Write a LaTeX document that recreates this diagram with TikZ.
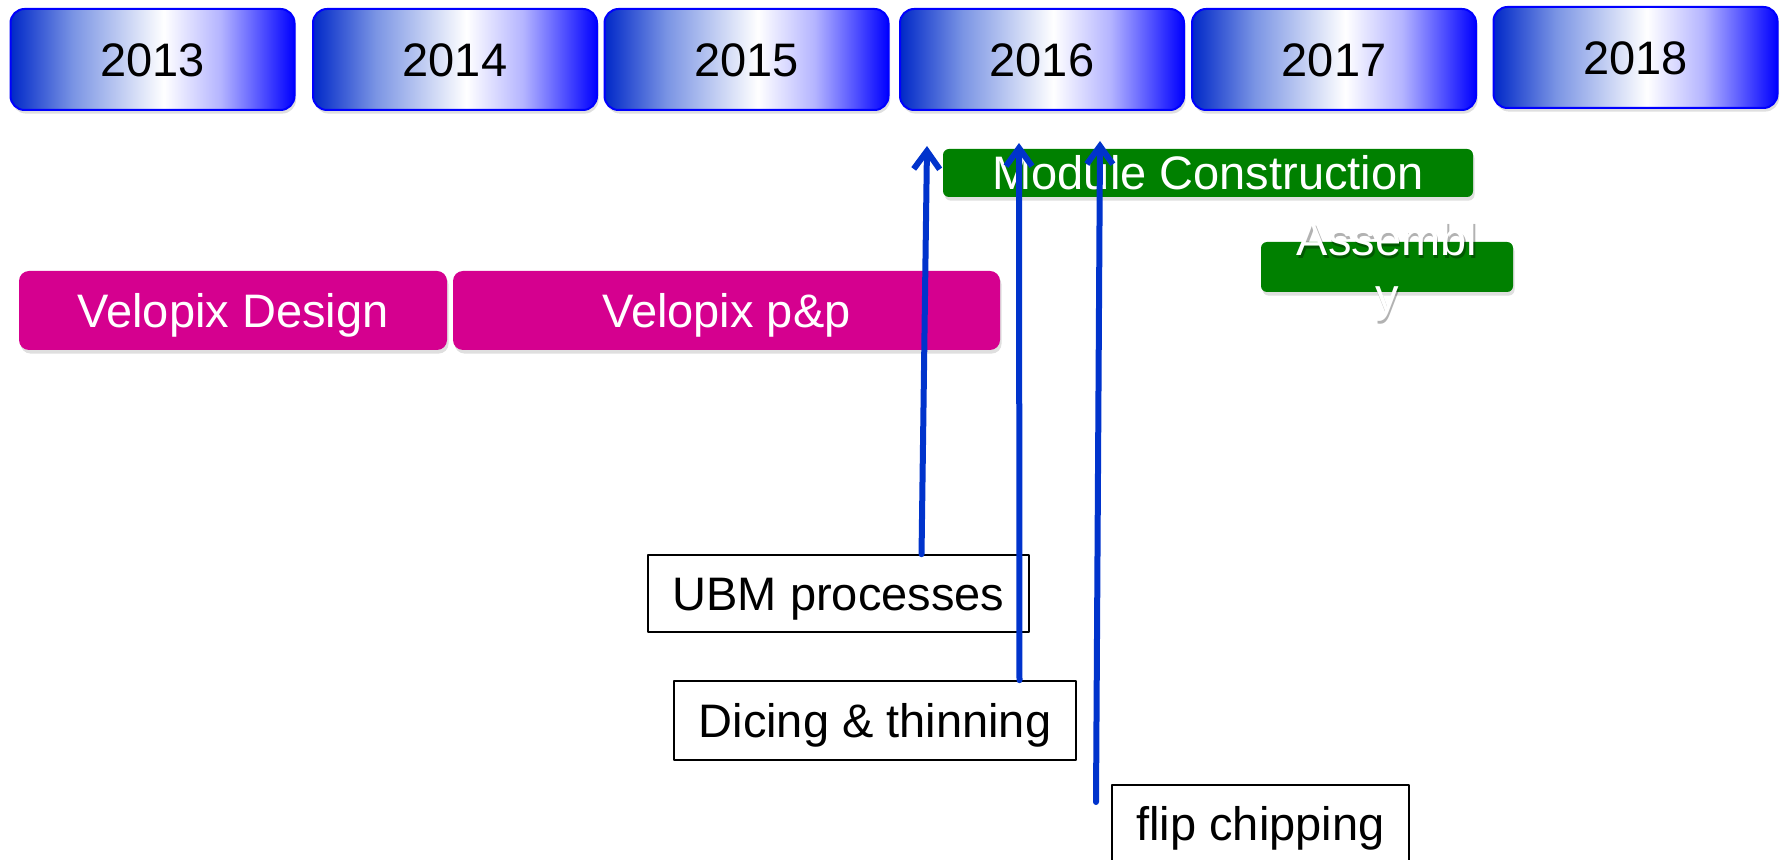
\documentclass[tikz,border=0pt]{standalone}
\usepackage{fontspec}
\setmainfont{Liberation Sans}
\usepackage{xcolor}
\usepackage{tikz}
\usetikzlibrary{arrows.meta, shadows, calc}
\definecolor{year_dark}{HTML}{0028C8}
\definecolor{year_mid}{HTML}{7A94E4}
\definecolor{year_lav}{HTML}{B4B4FF}
\definecolor{year_blue}{HTML}{0000FF}
\definecolor{chip_magenta}{HTML}{D5008F}
\definecolor{module_green}{HTML}{008000}
\definecolor{arrow_blue}{HTML}{0033CC}
\pgfdeclarehorizontalshading{yearshade}{100bp}{color(0bp)=(year_dark); color(25bp)=(year_dark); color(36bp)=(year_mid); color(52bp)=(white); color(62bp)=(year_lav); color(75bp)=(year_blue); color(100bp)=(year_blue)}

\begin{document}
\begin{tikzpicture}[
                x=0.5pt,
                y=-0.5pt,
                line cap=round,
                line join=round,
                capfont/.style={font=\fontsize{23.5}{28}\selectfont, text height=16.8pt, text depth=0pt},
                yearbox/.style={capfont, draw=year_blue, line width=1pt, rounded corners=7pt, shading=yearshade,
                    minimum width=142pt, minimum height=50.5pt, inner sep=0pt,
                    drop shadow={shadow xshift=0.8pt, shadow yshift=-1.8pt, opacity=0.25}},
                chipbox/.style={capfont, fill=chip_magenta, rounded corners=5pt, text=white, inner sep=0pt,
                    minimum height=39.5pt,
                    drop shadow={shadow xshift=0.8pt, shadow yshift=-1.8pt, opacity=0.25}},
                modulebox/.style={capfont, fill=module_green, rounded corners=3pt, text=white, inner sep=0pt,
                    drop shadow={shadow xshift=0.8pt, shadow yshift=-1.8pt, opacity=0.25}},
                processbox/.style={capfont, draw, line width=0.8pt, fill=white, inner sep=0pt,
                    minimum height=39pt},
                flow/.style={-{Straight Barb[length=9pt, width=13pt]}, line width=3pt, arrow_blue},
            ]
            % Fix the page size
            \useasboundingbox (0,0) rectangle (1783,860);

            % Years
            \node[yearbox] (y2013) at (152.5,59.5) {2013};
            \node[yearbox] (y2014) at (455,59.5) {2014};
            \node[yearbox] (y2015) at (746.5,59.5) {2015};
            \node[yearbox] (y2016) at (1042,59.5) {2016};
            \node[yearbox] (y2017) at (1334,59.5) {2017};
            \node[yearbox] (y2018) at (1635.5,57.5) {2018};

            % Velopix chip
            \node[chipbox, minimum width=214pt] (design) at (233,310.5) {Velopix Design};
            \node[chipbox, minimum width=273.5pt] (pp) at (726.5,310.5) {Velopix p\&p};

            % Module work
            \node[modulebox, minimum width=265pt, minimum height=24pt] (module) at (1208,173) {Module Construction};
            \node[modulebox, minimum width=126pt, minimum height=25pt] (assembly) at (1387,267) {};
            \node[text=black, opacity=0.3, align=center, inner sep=0pt, anchor=base, font=\fontsize{23.5}{28}\selectfont]
                (assemblyshadow) at (1388.5,315) {Assembl\\y};
            \node[text=white, align=center, inner sep=0pt, anchor=base, font=\fontsize{23.5}{28}\selectfont]
                (assemblytext) at (1387,312) {Assembl\\y};

            % Processes
            \node[processbox, minimum width=190.5pt, minimum height=38.5pt] (ubm) at (838.5,593.5) {UBM processes};
            \node[processbox, minimum width=201pt, minimum height=39.5pt] (dicing) at (875,720.5) {Dicing \& thinning};
            \node[processbox, minimum width=148.5pt] (flip) at (1260.5,824) {flip chipping};

            % Arrows up to the module start
            \coordinate (ubm_tip) at (927,146);
            \coordinate (dicing_tip) at (1019,143);
            \coordinate (flip_start) at (1096,802);
            \coordinate (flip_tip) at (1100,141);
            \draw[flow] ($(ubm.north west)!0.717!(ubm.north east)$) -- (ubm_tip);
            \draw[flow] ($(dicing.north west)!0.858!(dicing.north east)$) -- (dicing_tip);
            \draw[flow] (flip_start) -- (flip_tip);
        \end{tikzpicture}
\end{document}
